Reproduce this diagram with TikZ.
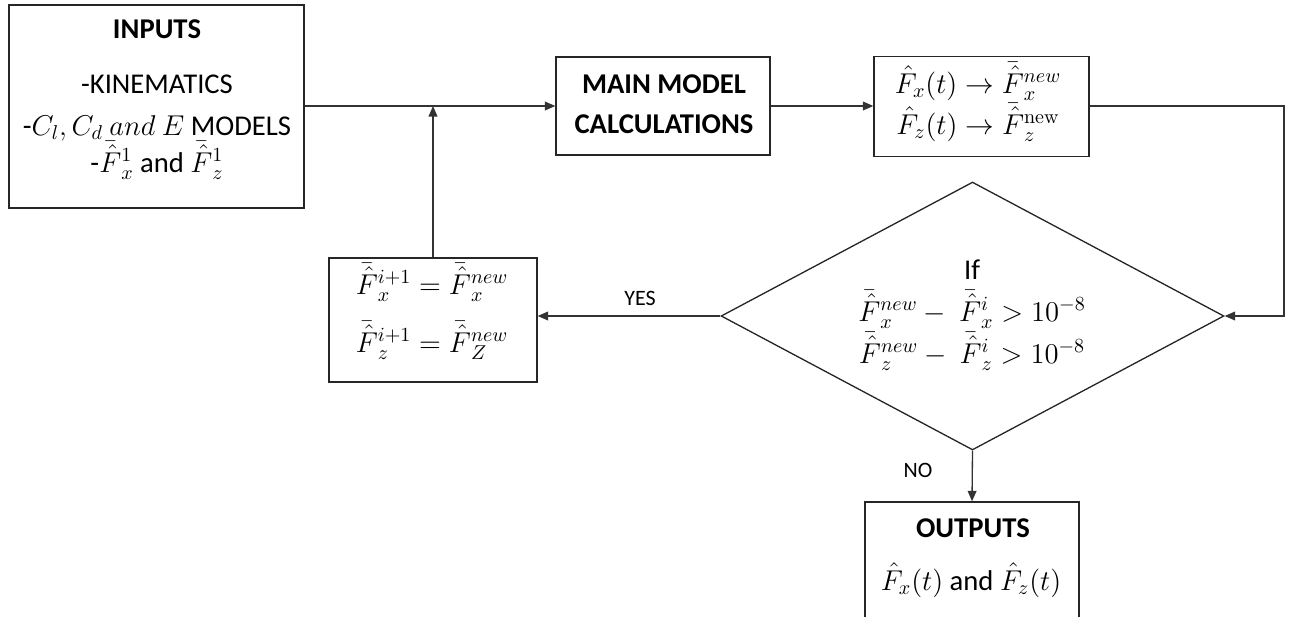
\RequirePackage{fix-cm}
\documentclass[tikz,border=0pt]{standalone}
\usepackage[no-math]{fontspec}
\setmainfont{Carlito}
\usetikzlibrary{shapes.geometric,arrows.meta}
\tikzset{
  boxnode/.style={draw=black!85, line width=0.75pt, rectangle, inner sep=0pt},
  txt/.style={anchor=base, inner sep=0pt, font=\fontsize{16.3}{19}\selectfont},
  btxt/.style={txt, font=\fontsize{16.3}{19}\selectfont\bfseries},
  lbl/.style={anchor=base, inner sep=0pt, font=\fontsize{12.5}{15}\selectfont},
  conn/.style={draw=black!80, line width=0.75pt, -{Triangle[length=6pt,width=5pt]}}
}
\newcommand{\Fbh}{{\bar{\hat{F}}}{}}
\newcommand{\Fh}{\hat{F}}
\begin{document}
\begin{tikzpicture}[x=0.02cm,y=-0.02cm]
\useasboundingbox (0,0) rectangle (1294,616);
% boxes
\node[boxnode, minimum width=5.9cm, minimum height=4.06cm] (inputs) at (156.5,106.5) {};
\node[boxnode, minimum width=4.28cm, minimum height=1.96cm] (main) at (663,106) {};
\node[boxnode, minimum width=4.3cm, minimum height=2.0cm] (fhat) at (981.5,106.5) {};
\node[boxnode, minimum width=4.16cm, minimum height=2.48cm] (fb) at (433,320) {};
\node[boxnode, diamond, minimum width=10.06cm, minimum height=5.36cm] (cond) at (972.5,316) {};
\node[boxnode, minimum width=4.28cm, minimum height=2.36cm] (outputs) at (972,561) {};
% texts
\node[btxt] (inT1) at (157,38) {INPUTS};
\node[txt] (inT2) at (157,93) {-KINEMATICS};
\node[txt] (inT3) at (157,135) {-$C_l, C_d\ and\ E$ MODELS};
\node[txt] (inT4) at (157,172) {-$\Fbh_x^1$ and $\Fbh_z^1$};
\node[btxt] (mT1) at (664,93) {MAIN MODEL};
\node[btxt] (mT2) at (664,133) {CALCULATIONS};
\node[txt] (fT1) at (978,93) {$\Fh_x(t) \rightarrow \Fbh_x^{new}$};
\node[txt] (fT2) at (978,134) {$\Fh_z(t) \rightarrow \Fbh_z^{\mathrm{new}}$};
\node[txt] (bT1) at (432,294) {$\Fbh_x^{i+1} = \Fbh_x^{new}$};
\node[txt] (bT2) at (432,352) {$\Fbh_z^{i+1} = \Fbh_Z^{new}$};
\node[txt] (cT1) at (972,279) {If};
\node[txt] (cT2) at (972,321) {$\Fbh_x^{new} -\ \Fbh_x^{i} > 10^{-8}$};
\node[txt] (cT3) at (972,363) {$\Fbh_z^{new} -\ \Fbh_z^{i} > 10^{-8}$};
\node[btxt] (oT1) at (973,537) {OUTPUTS};
\node[txt] (oT2) at (971,590) {$\Fh_x(t)$ and $\Fh_z(t)$};
% connectors
\coordinate (loopR) at (1284,106);
\draw[conn] (inputs.east |- main.west) -- (main.west);
\draw[conn] (fb.north) -- (fb.north |- main.west);
\draw[conn] (main.east) -- (main.east -| fhat.west);
\draw[conn] (fhat.east |- main.east) -- (loopR) |- (cond.east);
\draw[conn] (cond.west) -- (cond.west -| fb.east);
\draw[conn] (cond.south) -- (outputs.north);
\node[lbl] (yes) at (640,305) {YES};
\node[lbl] (no) at (918,477) {NO};
\end{tikzpicture}
\end{document}
